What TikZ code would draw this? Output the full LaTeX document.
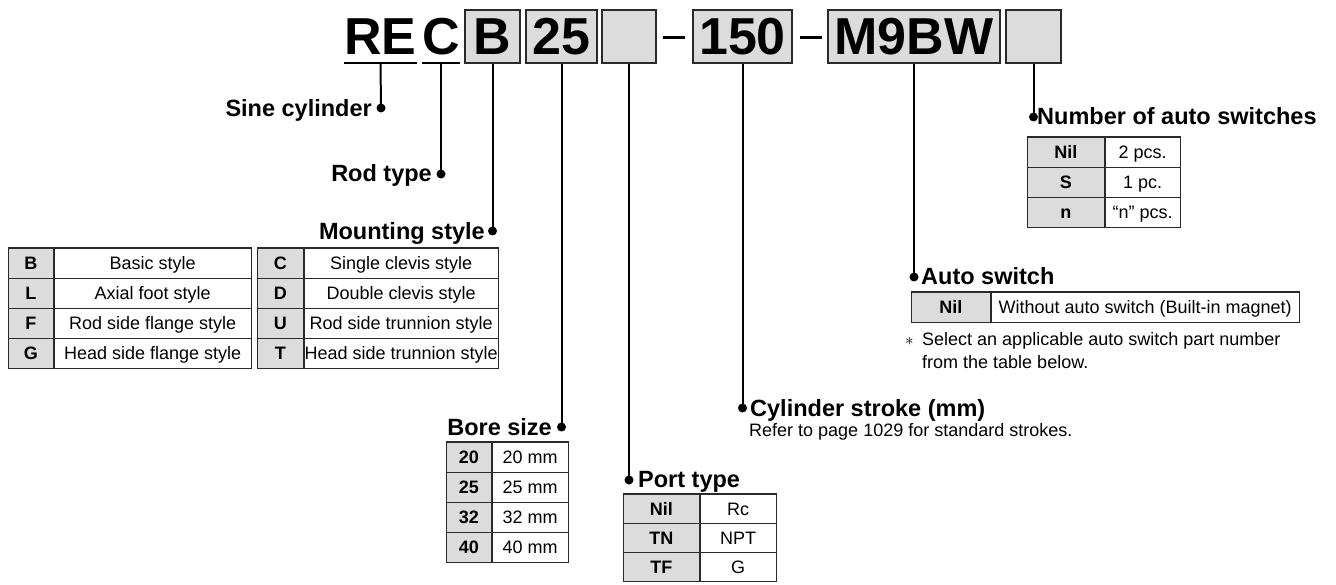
\documentclass[tikz,border=0pt]{standalone}
\usepackage{fontspec}
\setmainfont{Liberation Sans}
\definecolor{kgrey}{HTML}{DCDCDC}
\definecolor{lgrey}{HTML}{2A2A2A}
\tikzset{
  lbl/.style={font=\fontsize{23.5}{28}\selectfont\bfseries, inner sep=0pt},
  small/.style={font=\fontsize{18}{21}\selectfont, inner sep=0pt},
  cell/.style={draw=lgrey, line width=0.8pt, minimum height=30pt, inner sep=0pt,
    anchor=north west, text height=13pt, text depth=0pt, font=\fontsize{18}{21}\selectfont},
  keycell/.style={cell, fill=kgrey, font=\fontsize{18}{21}\selectfont\bfseries},
  codebox/.style={draw=lgrey, line width=2.5pt, fill=kgrey, minimum height=53pt, inner sep=0pt,
    text height=37pt, text depth=0pt, font=\fontsize{52}{60}\selectfont\bfseries},
  codetxt/.style={minimum height=53pt, inner sep=0pt, text height=37pt, text depth=0pt,
    font=\fontsize{52}{60}\selectfont\bfseries},
  dashbar/.style={fill=black, inner sep=0pt, minimum width=22pt, minimum height=3pt},
  dot/.style={circle, fill=black, inner sep=0pt, minimum size=9pt},
  conn/.style={line width=2pt, black},
  topline/.style={line width=2pt, lgrey},
}
\begin{document}
\begin{tikzpicture}[x=1pt,y=-1pt]
\useasboundingbox (0,0) rectangle (1336,585);

% ---------- code ----------
\node[codetxt, minimum width=71pt] (cRE) at (380.5,36.5) {RE};
\node[codetxt, minimum width=34pt] (cC) at (441,36.5) {C};
\node[codebox, minimum width=55pt] (cB) at (492.5,36.5) {B};
\node[codebox, minimum width=71pt] (c25) at (561.5,36.5) {25};
\node[codebox, minimum width=54pt] (cPort) at (629,36.5) {};
\node[dashbar] (h1) at (674,37.5) {};
\node[codebox, minimum width=99pt] (c150) at (742.5,36.5) {150};
\node[dashbar] (h2) at (811,37.5) {};
\node[codebox, minimum width=172pt] (cSw) at (914,36.5) {M9BW};
\node[codebox, minimum width=55pt] (cNum) at (1033.5,36.5) {};
\draw[conn] (cRE.south west) -- (cRE.south east);
\draw[conn] (cC.south west) -- (cC.south east);

% ---------- dots and connectors ----------
\node[dot] (dSine) at (381,108) {};
\node[dot] (dRod) at (441,174) {};
\node[dot] (dMount) at (492.5,231) {};
\node[dot] (dBore) at (561.5,427) {};
\node[dot] (dPort) at (629,480) {};
\node[dot] (dStroke) at (742.5,408) {};
\node[dot] (dSw) at (914,277) {};
\node[dot] (dNum) at (1033.5,117) {};
\draw[conn] (cRE.south) -- (dSine.center);
\draw[conn] (cC.south) -- (dRod.center);
\draw[conn] (cB.south) -- (dMount.center);
\draw[conn] (c25.south) -- (dBore.center);
\draw[conn] (cPort.south) -- (dPort.center);
\draw[conn] (c150.south) -- (dStroke.center);
\draw[conn] (cSw.south) -- (dSw.center);
\draw[conn] (cNum.south) -- (dNum.center);

% ---------- labels ----------
\node[lbl, anchor=base east] (lSine) at (372,117) {Sine cylinder};
\node[lbl, anchor=base east] (lRod) at (432,182) {Rod type};
\node[lbl, anchor=base east] (lMount) at (485,240) {Mounting style};
\node[lbl, anchor=base east] (lBore) at (552,435) {Bore size};
\node[lbl, anchor=base west] (lPort) at (638,487) {Port type};
\node[lbl, anchor=base west] (lStroke) at (750,416) {Cylinder stroke (mm)};
\node[lbl, anchor=base west] (lSw) at (921,285) {Auto switch};
\node[lbl, anchor=base west] (lNum) at (1037,125) {Number of auto switches};

\node[small, anchor=base west] (sStroke) at (749,436) {Refer to page 1029 for standard strokes.};
\node[anchor=base west, inner sep=0pt, font=\fontsize{17}{17}\selectfont] (nAst) at (905,345) {$\ast$};
\node[small, anchor=base west] (n1) at (922,345) {Select an applicable auto switch part number};
\node[small, anchor=base west] (n2) at (922,368) {from the table below.};

% ---------- mounting tables ----------
\foreach \k/\v [count=\i] in {B/Basic style, L/Axial foot style, F/Rod side flange style, G/Head side flange style}{
  \node[keycell, minimum width=45pt] (ta-k\i) at (8,{248+30*(\i-1)}) {\k};
  \node[cell, minimum width=197pt] (ta-v\i) at (ta-k\i.north east) {\v};
}
\draw[topline] (ta-k1.north west) -- (ta-v1.north east);
\foreach \k/\v [count=\i] in {C/Single clevis style, D/Double clevis style, U/Rod side trunnion style, T/Head side trunnion style}{
  \node[keycell, minimum width=46pt] (tb-k\i) at (257,{248+30*(\i-1)}) {\k};
  \node[cell, minimum width=194pt] (tb-v\i) at (tb-k\i.north east) {\v};
}
\draw[topline] (tb-k1.north west) -- (tb-v1.north east);

% ---------- bore size ----------
\foreach \k [count=\i] in {20,25,32,40}{
  \node[keycell, minimum width=45pt] (tc-k\i) at (446,{442+30*(\i-1)}) {\k};
  \node[cell, minimum width=76pt] (tc-v\i) at (tc-k\i.north east) {\k\ mm};
}
\draw[topline] (tc-k1.north west) -- (tc-v1.north east);

% ---------- port type ----------
\foreach \k/\v [count=\i] in {Nil/Rc, TN/NPT, TF/G}{
  \node[keycell, minimum width=76pt, minimum height=29pt] (td-k\i) at (623,{494+29*(\i-1)}) {\k};
  \node[cell, minimum width=76pt, minimum height=29pt] (td-v\i) at (td-k\i.north east) {\v};
}
\draw[topline] (td-k1.north west) -- (td-v1.north east);

% ---------- number of auto switches ----------
\foreach \k/\v [count=\i] in {Nil/2 pcs., S/1 pc., n/{“n” pcs.}}{
  \node[keycell, minimum width=77pt] (te-k\i) at (1027,{137+30*(\i-1)}) {\k};
  \node[cell, minimum width=75pt] (te-v\i) at (te-k\i.north east) {\v};
}
\draw[topline] (te-k1.north west) -- (te-v1.north east);

% ---------- auto switch ----------
\node[keycell, minimum width=79pt] (tf-k1) at (911,292) {Nil};
\node[cell, minimum width=308pt] (tf-v1) at (tf-k1.north east) {Without auto switch (Built-in magnet)};
\draw[topline] (tf-k1.north west) -- (tf-v1.north east);
\end{tikzpicture}
\end{document}
